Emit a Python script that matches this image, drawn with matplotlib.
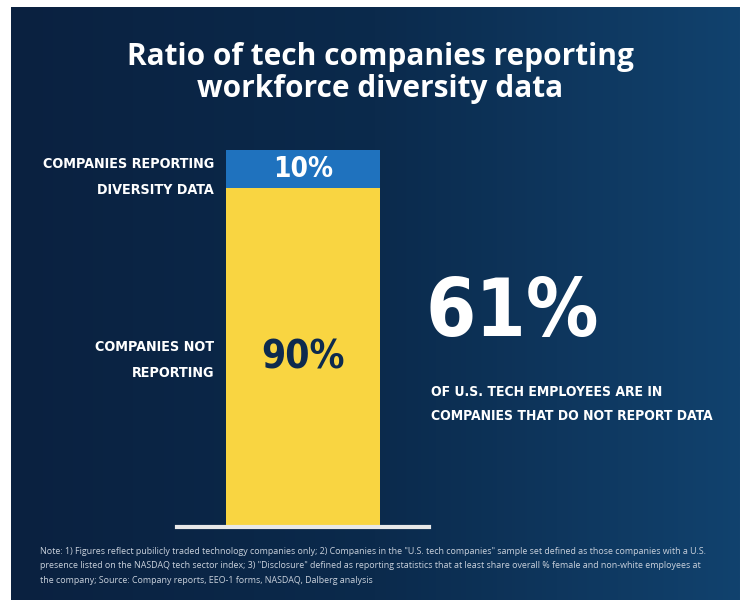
import matplotlib
matplotlib.use("Agg")
import matplotlib.pyplot as plt
import numpy as np
from matplotlib.colors import LinearSegmentedColormap

title = "Ratio of tech companies reporting\nworkforce diversity data"
segments = ["COMPANIES NOT\nREPORTING", "COMPANIES REPORTING\nDIVERSITY DATA"]
shares = [90, 10]
seg_colors = ["#f9d541", "#1f72be"]
value_colors = ["#0d2a4e", "white"]
big_stat = "61%"
big_stat_text = "OF U.S. TECH EMPLOYEES ARE IN\nCOMPANIES THAT DO NOT REPORT DATA"
note = ("Note: 1) Figures reflect pubilicly traded technology companies only; 2) Companies in the \"U.S. tech companies\" sample set defined as those companies with a U.S.\n"
        "presence listed on the NASDAQ tech sector index; 3) \"Disclosure\" defined as reporting statistics that at least share overall % female and non-white employees at\n"
        "the company; Source: Company reports, EEO-1 forms, NASDAQ, Dalberg analysis")

W, H = 740, 600
fig = plt.figure(figsize=(W / 100, H / 100), dpi=100)
fig.patch.set_facecolor("white")

def fx(x):
    return x / W

def fy(y):
    return 1 - y / H

# background panel with gradient
bg = fig.add_axes([fx(11), 0, fx(W - 11), 1 - 7 / H])
cmap = LinearSegmentedColormap.from_list("bg", ["#0a2140", "#0b2a4c", "#11426e"])
bg.imshow(np.linspace(0, 1, 256).reshape(1, -1), aspect="auto", cmap=cmap, extent=[0, 1, 0, 1])
bg.set_axis_off()

cond = dict(family="DejaVu Sans", fontstretch="condensed", fontweight="bold")

fig.text(fx(380), fy(73), title, ha="center", va="center", color="white",
         fontsize=21.5, fontweight="bold", family=["Open Sans", "DejaVu Sans"], linespacing=1.1)

# stacked bar
ax = fig.add_axes([fx(177), fy(527), fx(252), (527 - 150) / H])
ax.set_xlim(-0.5, 0.5)
ax.set_ylim(0, sum(shares))
bottom = 0
for lab, v, c, tc in zip(segments, shares, seg_colors, value_colors):
    ax.bar(0, v, width=0.611, bottom=bottom, color=c)
    ax.text(0, bottom + v / 2, f"{v}%", ha="center", va="center", color=tc,
            fontsize=28 if v > 50 else 20, **cond)
    bottom += v
ax.axhline(0, color="#e8e8e8", lw=3, clip_on=False)
ax.set_axis_off()

fig.text(fx(214), fy(177), segments[1], ha="right", va="center", color="white",
         fontsize=10.3, linespacing=2.1, **cond)
fig.text(fx(214), fy(360), segments[0], ha="right", va="center", color="white",
         fontsize=10.3, linespacing=2.1, **cond)

fig.text(fx(425), fy(314), big_stat, ha="left", va="center", color="white",
         fontsize=58, **cond)
fig.text(fx(431), fy(404), big_stat_text, ha="left", va="center", color="white",
         fontsize=10, linespacing=1.95, **cond)

fig.text(fx(40), fy(566), note, ha="left", va="center", color="#c9d1dc",
         fontsize=6.4, family=["Open Sans", "DejaVu Sans"], linespacing=1.75)

fig.savefig("out.png", dpi=100)
